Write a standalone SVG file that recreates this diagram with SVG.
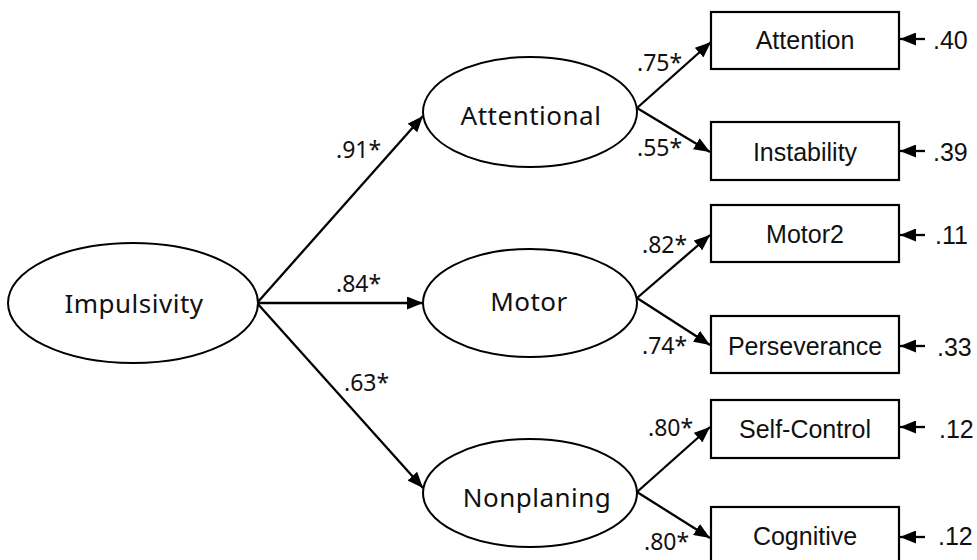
<svg xmlns="http://www.w3.org/2000/svg" width="977" height="560" viewBox="0 0 977 560">
<style>
.lat{fill:#fff;stroke:#000;stroke-width:2}
.box{fill:#fff;stroke:#000;stroke-width:2.2}
.lt{font-family:"Noto Sans","DejaVu Sans",sans-serif;font-size:26px;letter-spacing:0.5px;fill:#111;text-anchor:middle}
.bt{font-family:"Liberation Sans",Arial,sans-serif;font-size:25px;fill:#111;text-anchor:middle}
.cf{font-family:"Noto Sans","DejaVu Sans",sans-serif;font-size:23px;fill:#111}
.rs{font-family:"Liberation Sans",Arial,sans-serif;font-size:25px;fill:#111}
.ar{stroke:#000;stroke-width:2.3;fill:none;marker-end:url(#ah)}
</style>
<defs>
<marker id="ah" markerUnits="userSpaceOnUse" markerWidth="16" markerHeight="13" refX="16" refY="6.5" orient="auto">
<path d="M0,0 L16,6.5 L0,13 z" fill="#000"/>
</marker>
</defs>
<rect width="977" height="560" fill="#fff"/>
<g id="connectors">
<line class="ar" x1="257" y1="303" x2="423" y2="116"/>
<line class="ar" x1="257" y1="303" x2="423" y2="303"/>
<line class="ar" x1="257" y1="303" x2="423" y2="488"/>
<line class="ar" x1="637" y1="108" x2="711" y2="42"/>
<line class="ar" x1="637" y1="108" x2="710" y2="152"/>
<line class="ar" x1="637" y1="298" x2="710" y2="235"/>
<line class="ar" x1="637" y1="298" x2="710" y2="345"/>
<line class="ar" x1="637" y1="492" x2="710" y2="427"/>
<line class="ar" x1="637" y1="492" x2="710" y2="538"/>
<line class="ar" x1="925" y1="39" x2="900" y2="39"/>
<line class="ar" x1="925" y1="151" x2="900" y2="151"/>
<line class="ar" x1="925" y1="235" x2="900" y2="235"/>
<line class="ar" x1="925" y1="346" x2="900" y2="346"/>
<line class="ar" x1="925" y1="427" x2="900" y2="427"/>
<line class="ar" x1="925" y1="537" x2="900" y2="537"/>
</g>
<g id="labels">
<text class="cf" x="336" y="158">.91*</text>
<text class="cf" x="336" y="292">.84*</text>
<text class="cf" x="344" y="391">.63*</text>
<text class="cf" x="637" y="71">.75*</text>
<text class="cf" x="637" y="156">.55*</text>
<text class="cf" x="642" y="253">.82*</text>
<text class="cf" x="642" y="354">.74*</text>
<text class="cf" x="648" y="436">.80*</text>
<text class="cf" x="644" y="550">.80*</text>
<text class="rs" x="933" y="49">.40</text>
<text class="rs" x="933" y="161">.39</text>
<text class="rs" x="935" y="244">.11</text>
<text class="rs" x="937" y="356">.33</text>
<text class="rs" x="939" y="438">.12</text>
<text class="rs" x="938" y="545">.12</text>
</g>
<g id="impulsivity"><ellipse class="lat" cx="133" cy="303" rx="125" ry="60"/><text class="lt" x="134" y="313">Impulsivity</text></g>
<g id="attentional"><ellipse class="lat" cx="530" cy="112" rx="107" ry="55"/><text class="lt" x="531" y="125">Attentional</text></g>
<g id="motor"><ellipse class="lat" cx="530" cy="303" rx="107" ry="54"/><text class="lt" x="529" y="311">Motor</text></g>
<g id="nonplaning"><ellipse class="lat" cx="530" cy="493" rx="107" ry="54"/><text class="lt" x="537" y="507">Nonplaning</text></g>
<g id="attention"><rect class="box" x="711" y="12" width="188" height="57"/><text class="bt" x="805" y="49">Attention</text></g>
<g id="instability"><rect class="box" x="711" y="122" width="188" height="58"/><text class="bt" x="805" y="161">Instability</text></g>
<g id="motor2"><rect class="box" x="711" y="205" width="188" height="57"/><text class="bt" x="805" y="243">Motor2</text></g>
<g id="perseverance"><rect class="box" x="711" y="316" width="188" height="57"/><text class="bt" x="805" y="355">Perseverance</text></g>
<g id="selfcontrol"><rect class="box" x="711" y="400" width="188" height="58"/><text class="bt" x="805" y="438">Self-Control</text></g>
<g id="cognitive"><rect class="box" x="711" y="507" width="188" height="58"/><text class="bt" x="805" y="545">Cognitive</text></g>
</svg>
